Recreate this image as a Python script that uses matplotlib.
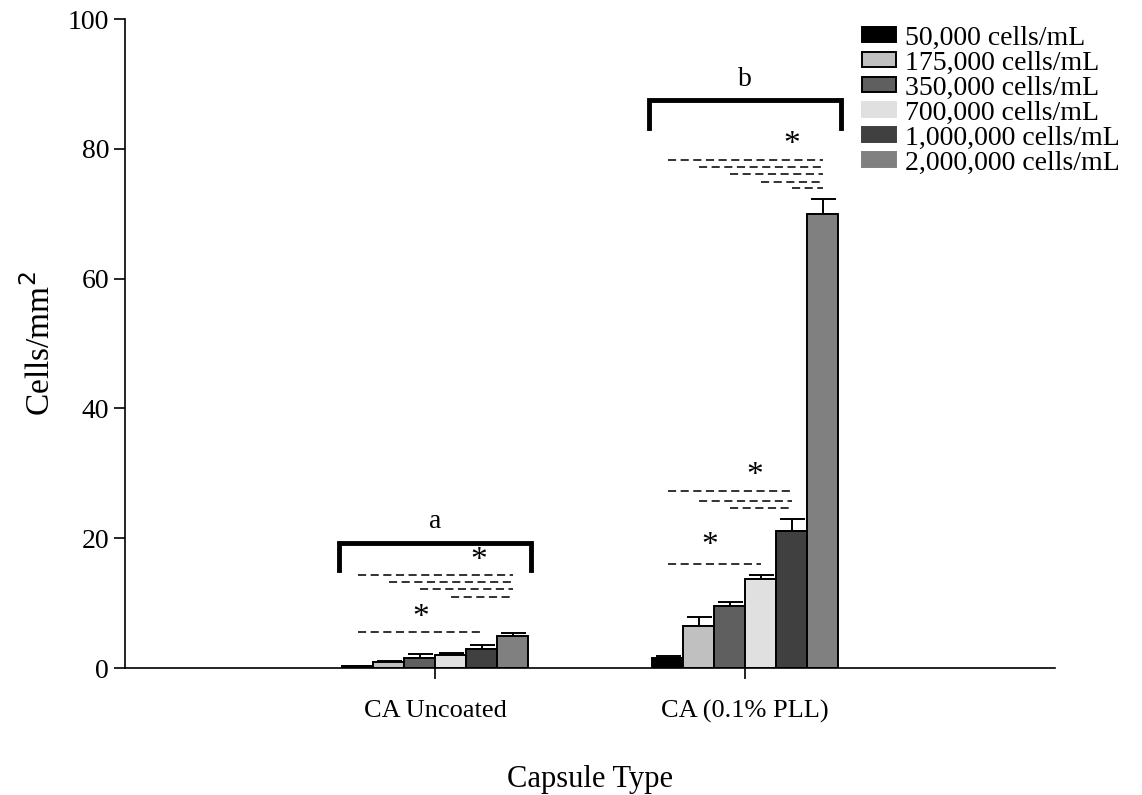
import numpy as np
import matplotlib
matplotlib.use("Agg")
import matplotlib.pyplot as plt

plt.rcParams['font.family'] = ['Liberation Serif', 'DejaVu Serif']

# --- data ---
groups = ["CA Uncoated", "CA (0.1% PLL)"]
densities = ["50,000 cells/mL", "175,000 cells/mL", "350,000 cells/mL",
             "700,000 cells/mL", "1,000,000 cells/mL", "2,000,000 cells/mL"]
uncoated = [0.25, 0.9, 1.5, 1.95, 2.9, 4.9]
uncoated_err = [0.1, 0.15, 0.7, 0.4, 0.7, 0.5]
pll = [1.5, 6.5, 9.6, 13.7, 21.1, 70.0]
pll_err = [0.3, 1.4, 0.6, 0.7, 1.8, 2.3]
colors = ["#000000", "#c0c0c0", "#5f5f5f", "#e0e0e0", "#404040", "#808080"]

# significance lines: (group, start bar, end bar, y)
sig_lines = [
    (0, 0, 5, 14.4), (0, 1, 5, 13.3), (0, 2, 5, 12.2), (0, 3, 5, 10.9),
    (0, 0, 4, 5.5),
    (1, 0, 5, 78.3), (1, 1, 5, 77.2), (1, 2, 5, 76.1), (1, 3, 5, 74.9), (1, 4, 5, 73.9),
    (1, 0, 4, 27.3), (1, 1, 4, 25.8), (1, 2, 4, 24.6),
    (1, 0, 3, 16.0),
]
stars = [(0, 3.9, 16.5), (0, 2.05, 7.7), (1, 4.0, 80.6), (1, 2.8, 29.6), (1, 1.35, 18.8)]
brackets = [(0, 15.1, 19.3, "a"), (1, 83.2, 87.5, "b")]

width = 0.1
offsets = (np.arange(6) - 2.5) * width

fig = plt.figure(figsize=(11.42, 7.95), dpi=100)
ax = fig.add_axes([0.1095, 0.1597, 0.8145, 0.8163])

vals = np.array([uncoated, pll])
errs = np.array([uncoated_err, pll_err])
for i in range(6):
    x = np.arange(2) + offsets[i]
    ax.bar(x, vals[:, i], width=width, color=colors[i], edgecolor="black",
           linewidth=1.4, label=densities[i], zorder=2)
    ax.errorbar(x, vals[:, i], yerr=[np.zeros(2), errs[:, i]], fmt="none",
                ecolor="black", elinewidth=1.4, capsize=9, capthick=1.4, zorder=1)

for g, a, b, y in sig_lines:
    ax.plot([g + offsets[a], g + offsets[b]], [y, y], color="#222222",
            linestyle=(0, (4.5, 2.5)), linewidth=1.3)

for g, pos, y in stars:
    ax.text(g + (pos - 2.5) * width, y, "*", fontsize=24, ha="center", va="center")

for g, y0, y1, lab in brackets:
    xl = g - 3.1 * width
    xr = g + 3.1 * width
    ax.plot([xl, xl, xr, xr], [y0, y1, y1, y0], color="black", linewidth=3.5,
            solid_joinstyle="miter", clip_on=False)
    ax.text(g, y1 + 1.3, lab, fontsize=20, ha="center", va="bottom")

ax.set_xlim(-1, 2)
ax.set_ylim(0, 100)
ax.set_xticks([0, 1])
ax.set_xticklabels(groups, fontsize=19)
ax.set_yticks(np.arange(0, 101, 20))
ax.tick_params(axis="y", labelsize=20, length=8, width=1.2, direction="out")
ax.tick_params(axis="x", length=8, width=1.2, pad=15)
for s in ["top", "right"]:
    ax.spines[s].set_visible(False)
for s in ["left", "bottom"]:
    ax.spines[s].set_linewidth(1.2)
ax.set_xlabel("Capsule Type", fontsize=22, labelpad=30)
ax.set_ylabel("Cells/mm$^2$", fontsize=24, labelpad=8)

leg = ax.legend(loc="upper left", bbox_to_anchor=(0.792, 0.99), frameon=False,
                fontsize=20, labelspacing=0.0, handlelength=1.25, handleheight=0.45,
                handletextpad=0.3, borderaxespad=0.0, borderpad=0.0)
for h, c in zip(leg.legend_handles, colors):
    if c in ("#e0e0e0", "#404040", "#808080"):
        h.set_edgecolor(c)

fig.savefig("out.png", dpi=100)
